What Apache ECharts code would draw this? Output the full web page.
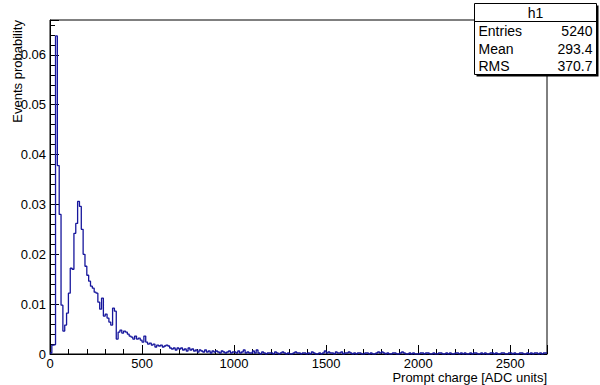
<!DOCTYPE html>
<html><head><meta charset="utf-8">
<script src="https://cdn.jsdelivr.net/npm/echarts@6/dist/echarts.min.js"></script>
<style>html,body{margin:0;padding:0;background:#fff}#c{width:600px;height:385px}</style>
</head><body><div id="c"></div>
<script>
// ---- data ----
const binWidth = 10;            // ADC units per bin
const xMin = 0, xMax = 2700;
const yMin = 0, yMax = 0.067;
const xMajor = 500, xMinor = 100;
const yMajor = 0.01, yMinor = 0.002;

// bins 0..69 (0-700 ADC)
const probCore = [
 0.0002, 0.0018, 0.0019, 0.0638, 0.0378, 0.0280, 0.0098, 0.0046, 0.0058, 0.0082,
 0.0122, 0.0172, 0.0170, 0.0242, 0.0262, 0.0306, 0.0296, 0.0250, 0.0200, 0.0176,
 0.0158, 0.0146, 0.0136, 0.0132, 0.0124, 0.0122, 0.0104, 0.0090, 0.0112, 0.0076,
 0.0080, 0.0072, 0.0064, 0.0058, 0.0092, 0.0086, 0.0030, 0.0044, 0.0048, 0.0042,
 0.0046, 0.0044, 0.0040, 0.0036, 0.0034, 0.0030, 0.0036, 0.0030, 0.0032, 0.0028,
 0.0024, 0.0036, 0.0024, 0.0020, 0.0022, 0.0018, 0.0020, 0.0014, 0.0018, 0.0016,
 0.0018, 0.0014, 0.0016, 0.0018, 0.0016, 0.0012, 0.0010, 0.0012, 0.0008, 0.0012
];
// bins 70..269 (700-2700 ADC)
const probTail = [
 0.0010, 0.0012, 0.0008, 0.0010, 0.0006, 0.0012, 0.0008, 0.0010, 0.0006, 0.0008,
 0.0004, 0.0008, 0.0006, 0.0004, 0.0008, 0.0004, 0.0006, 0.0002, 0.0006, 0.0004,
 0.0006, 0.0004, 0.0002, 0.0006, 0.0004, 0.0002, 0.0004, 0.0006, 0.0002, 0.0004,
 0.0004, 0.0002, 0.0006, 0.0002, 0.0004, 0.0008, 0.0002, 0.0004, 0.0002, 0.0002,
 0.0006, 0.0002, 0.0008, 0.0002, 0, 0.0004, 0.0002, 0, 0.0002, 0.0002,
 0.0002, 0, 0.0004, 0.0002, 0, 0.0002, 0.0004, 0.0002, 0, 0.0002,
 0, 0, 0.0002, 0.0004, 0.0002, 0.0002, 0, 0.0002, 0.0002, 0,
 0.0002, 0, 0.0004, 0.0002, 0, 0, 0.0002, 0, 0.0002, 0.0006,
 0.0002, 0.0004, 0.0002, 0.0002, 0, 0.0004, 0.0002, 0.0002, 0.0004, 0,
 0.0002, 0.0002, 0.0004, 0.0002, 0, 0.0002, 0, 0.0002, 0.0002, 0,
 0, 0.0002, 0.0002, 0, 0.0002, 0, 0, 0.0002, 0.0004, 0.0002,
 0.0004, 0.0002, 0, 0.0002, 0, 0, 0.0002, 0.0002, 0, 0,
 0.0002, 0.0004, 0.0002, 0, 0, 0.0002, 0, 0.0002, 0, 0,
 0, 0.0002, 0.0002, 0, 0.0002, 0.0002, 0, 0, 0.0002, 0,
 0, 0.0002, 0.0002, 0, 0, 0.0002, 0, 0.0002, 0, 0,
 0.0002, 0.0002, 0, 0.0002, 0, 0.0002, 0, 0, 0.0002, 0,
 0.0002, 0.0002, 0, 0, 0.0002, 0, 0.0002, 0, 0, 0.0002,
 0.0002, 0, 0.0002, 0, 0, 0.0002, 0.0002, 0, 0, 0.0002,
 0.0002, 0, 0.0002, 0, 0, 0.0002, 0.0002, 0, 0, 0.0002,
 0, 0.0002, 0, 0.0002, 0.0002, 0, 0.0002, 0, 0.0002, 0.0002
];

const histName = 'h1';
const statsLabels = ['Entries', 'Mean', 'RMS'];
const statsValues = ['5240', '293.4', '370.7'];
const xTitle = 'Prompt charge [ADC units]';
const yTitle = 'Events probability';

// ---- build ----
const probs = probCore.concat(probTail);
const stepData = probs.map((v, i) => [xMin + i * binWidth, v]);
stepData.push([xMin + probs.length * binWidth, probs[probs.length - 1]]);

const FF = '"Liberation Sans", Arial, Helvetica, sans-serif';
const chart = echarts.init(document.getElementById('c'), null, {renderer: 'svg'});

const GL = 50, GT = 20, GW = 497, GH = 334;
const BX = 474.5, BY = 3.5, BW = 122, BH = 71;

const graphics = [
  {type: 'rect', shape: {x: BX + 2, y: BY + 2, width: BW, height: BH}, style: {fill: '#000'}},
  {type: 'rect', shape: {x: BX, y: BY, width: BW, height: BH}, style: {fill: '#fff', stroke: '#000', lineWidth: 1}},
  {type: 'line', shape: {x1: BX, y1: 21.5, x2: BX + BW, y2: 21.5}, style: {stroke: '#000', lineWidth: 1}},
  {type: 'text', x: BX + BW / 2, y: 12.5, style: {text: histName, font: '14px ' + FF, fill: '#000', textAlign: 'center', textVerticalAlign: 'middle', align: 'center', verticalAlign: 'middle'}},
  {type: 'text', x: GL + GW, y: 377, style: {text: xTitle, font: '13px ' + FF, fill: '#000', textAlign: 'right', textVerticalAlign: 'middle', align: 'right', verticalAlign: 'middle'}},
  {type: 'text', x: 17, y: GT, rotation: Math.PI / 2, style: {text: yTitle, font: '13px ' + FF, fill: '#000', textAlign: 'right', textVerticalAlign: 'middle', align: 'right', verticalAlign: 'middle'}}
];
const rowY = [31, 48.5, 66];
statsLabels.forEach((t, i) => {
  graphics.push({type: 'text', x: BX + 4, y: rowY[i], style: {text: t, font: '14px ' + FF, fill: '#000', textAlign: 'left', textVerticalAlign: 'middle', align: 'left', verticalAlign: 'middle'}});
  graphics.push({type: 'text', x: BX + BW - 4, y: rowY[i], style: {text: statsValues[i], font: '14px ' + FF, fill: '#000', textAlign: 'right', textVerticalAlign: 'middle', align: 'right', verticalAlign: 'middle'}});
});

const lab = {fontSize: 13, fontFamily: FF, color: '#000'};
chart.setOption({
  animation: false,
  backgroundColor: '#fff',
  grid: {left: GL, top: GT, width: GW, height: GH, show: true, borderColor: '#000', borderWidth: 1, backgroundColor: 'transparent', containLabel: false},
  xAxis: [
    {type: 'value', min: xMin, max: xMax, interval: xMajor, position: 'bottom',
     axisLine: {show: true, lineStyle: {color: '#000', width: 1}},
     axisTick: {show: true, inside: true, length: 9, lineStyle: {color: '#000'}},
     axisLabel: Object.assign({margin: 3, formatter: v => v > xMax - xMinor ? '' : String(v)}, lab),
     splitLine: {show: false}},
    {type: 'value', min: xMin, max: xMax, interval: xMinor, position: 'bottom', offset: 0,
     axisLine: {show: false}, axisTick: {show: true, inside: true, length: 5, lineStyle: {color: '#000'}},
     axisLabel: {show: false}, splitLine: {show: false}}
  ],
  yAxis: [
    {type: 'value', min: yMin, max: yMax, interval: yMajor, position: 'left',
     axisLine: {show: true, lineStyle: {color: '#000', width: 1}},
     axisTick: {show: true, inside: true, length: 9, lineStyle: {color: '#000'}},
     axisLabel: Object.assign({margin: 4, formatter: v => v > yMax - yMinor ? '' : (v === 0 ? '0' : v.toFixed(2))}, lab),
     splitLine: {show: false}},
    {type: 'value', min: yMin, max: yMax, interval: yMinor, position: 'left', offset: 0,
     axisLine: {show: false}, axisTick: {show: true, inside: true, length: 5, lineStyle: {color: '#000'}},
     axisLabel: {show: false}, splitLine: {show: false}}
  ],
  series: [{
    type: 'line', step: 'end', data: stepData, xAxisIndex: 0, yAxisIndex: 0,
    showSymbol: false, symbol: 'none', clip: true,
    lineStyle: {color: '#16169c', width: 1.3}, silent: true
  }],
  graphic: graphics
});
</script></body></html>
